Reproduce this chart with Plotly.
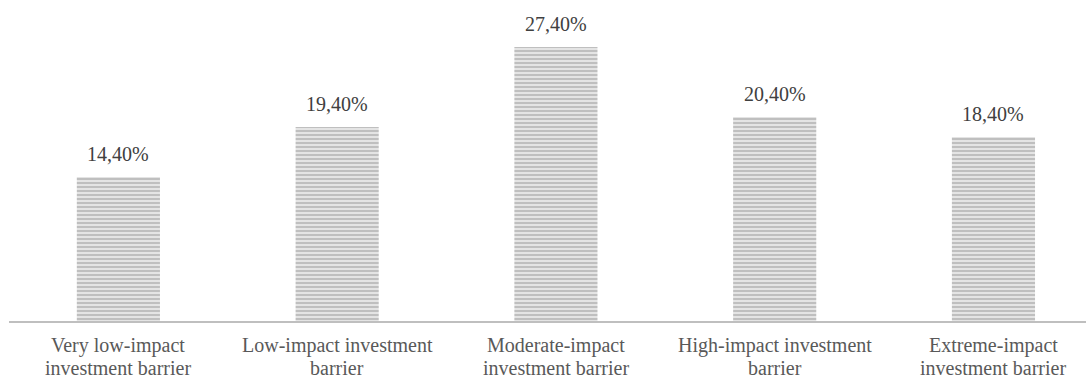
import plotly.graph_objects as go

categories = [
    "Very low-impact<br>investment barrier",
    "Low-impact investment<br>barrier",
    "Moderate-impact<br>investment barrier",
    "High-impact investment<br>barrier",
    "Extreme-impact<br>investment barrier",
]
values = [14.4, 19.4, 27.4, 20.4, 18.4]
labels = [f"{v:.2f}%".replace(".", ",") for v in values]

FONT = "Liberation Serif"

fig = go.Figure(
    go.Bar(
        x=categories,
        y=values,
        marker=dict(
            color="#e4e4e4",
            line=dict(width=0),
            pattern=dict(shape="-", fgcolor="#999999", bgcolor="#e4e4e4", size=4, solidity=0.5),
        ),
        hoverinfo="skip",
    )
)

annotations = []
for cat, v, lab in zip(categories, values, labels):
    annotations.append(dict(
        x=cat, y=v, xref="x", yref="y", text=lab, showarrow=False,
        yanchor="middle", yshift=23,
        font=dict(family=FONT, size=20, color="#404040"),
    ))
    for i, line in enumerate(cat.split("<br>")):
        annotations.append(dict(
            x=cat, y=0, xref="x", yref="paper", text=line, showarrow=False,
            yanchor="middle", yshift=-24 - 23 * i,
            font=dict(family=FONT, size=20, color="#595959"),
        ))

fig.update_layout(
    width=1086,
    height=379,
    margin=dict(l=9, r=0, t=21, b=58),
    paper_bgcolor="white",
    plot_bgcolor="white",
    bargap=0.62,
    showlegend=False,
    font=dict(family=FONT, size=20, color="#595959"),
    annotations=annotations,
)
fig.update_xaxes(
    range=[-0.5, 4.423],
    showline=True,
    linecolor="#bfbfbf",
    linewidth=2,
    showgrid=False,
    ticks="",
    showticklabels=False,
)
fig.update_yaxes(range=[0, 30], visible=False, showgrid=False)

fig.write_html("out.html")
